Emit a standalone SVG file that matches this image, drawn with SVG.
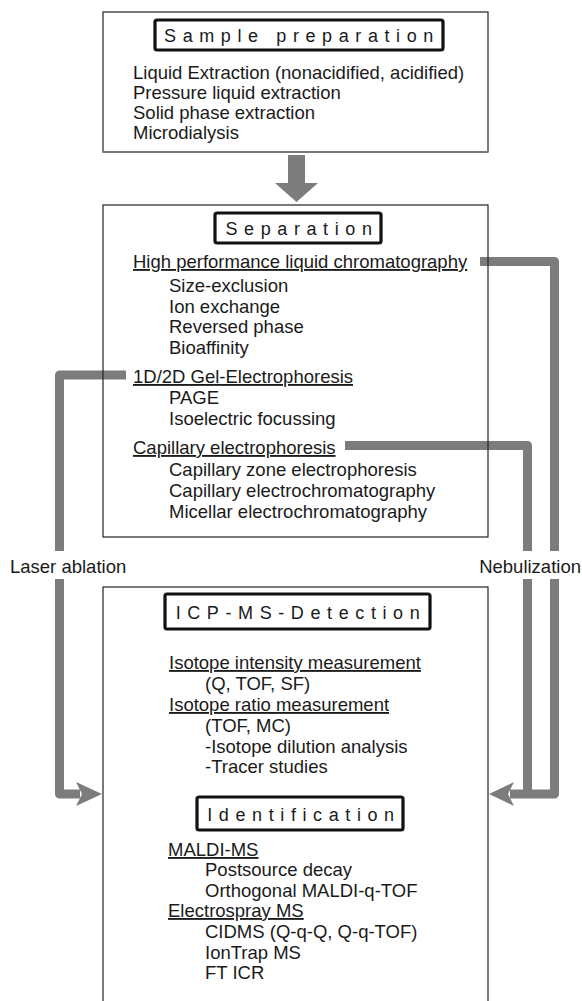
<svg xmlns="http://www.w3.org/2000/svg" width="582" height="1001" viewBox="0 0 582 1001">
<style>
  text { font-family: "Liberation Sans", Arial, sans-serif; font-size: 18.5px; fill: #1a1a1a; }
  .title { font-size: 18px; letter-spacing: 6.6px; text-anchor: middle; }
  .u { text-decoration: underline; }
  .box { fill: none; stroke: #222; stroke-width: 1.2; }
  .tbox { fill: #fff; stroke: #111; stroke-width: 3.2; }
  .conn { fill: none; stroke: #7c7c7c; stroke-width: 9; stroke-linejoin: round; }
  .head { fill: #7c7c7c; }
</style>
<rect width="582" height="1001" fill="#fff"/>

<g id="connectors">
  <polygon class="head" points="288,155 305,155 305,183 318,183 296.5,202 275,183 288,183"/>
  <path class="conn" d="M480,261.5 H554.5 V551"/>
  <path class="conn" d="M554.5,579 V794 H510"/>
  <path class="conn" d="M345,445.5 H527.5 V551"/>
  <path class="conn" d="M527.5,579 V794"/>
  <path class="conn" d="M126,375 H59.5 V551"/>
  <path class="conn" d="M59.5,579 V794 H80"/>
  <polygon class="head" points="76,782 102,794 76,806 82,794"/>
  <polygon class="head" points="514,782 489,794 514,806 508,794"/>
  <text x="10" y="573">Laser ablation</text>
  <text x="581" y="573" text-anchor="end">Nebulization</text>
</g>

<g id="sample-preparation">
  <rect class="box" x="103" y="12" width="385" height="140"/>
  <line x1="103" y1="152" x2="488" y2="152" stroke="#777" stroke-width="2"/>
  <rect class="tbox" x="155" y="20" width="288" height="30" rx="2"/>
  <text class="title" x="302" y="42">Sample preparation</text>
  <text x="133" y="79">Liquid Extraction (nonacidified, acidified)</text>
  <text x="133" y="99">Pressure liquid extraction</text>
  <text x="133" y="119">Solid phase extraction</text>
  <text x="133" y="139">Microdialysis</text>
</g>

<g id="separation">
  <rect class="box" x="103" y="205" width="385" height="332"/>
  <rect class="tbox" x="215" y="213" width="166" height="30" rx="2"/>
  <text class="title" x="302" y="235">Separation</text>
  <text class="u" x="133" y="268">High performance liquid chromatography</text>
  <text x="169" y="292">Size-exclusion</text>
  <text x="169" y="313">Ion exchange</text>
  <text x="169" y="333">Reversed phase</text>
  <text x="169" y="354">Bioaffinity</text>
  <text class="u" x="133" y="383">1D/2D Gel-Electrophoresis</text>
  <text x="169" y="404">PAGE</text>
  <text x="169" y="425">Isoelectric focussing</text>
  <text class="u" x="133" y="454">Capillary electrophoresis</text>
  <text x="169" y="476">Capillary zone electrophoresis</text>
  <text x="169" y="497">Capillary electrochromatography</text>
  <text x="169" y="518">Micellar electrochromatography</text>
</g>

<g id="icp-ms-detection">
  <rect class="box" x="103" y="587" width="385" height="430"/>
  <rect class="tbox" x="165" y="594" width="265" height="35" rx="2"/>
  <text class="title" x="301" y="619">ICP-MS-Detection</text>
  <text class="u" x="169" y="669">Isotope intensity measurement</text>
  <text x="205" y="690">(Q, TOF, SF)</text>
  <text class="u" x="169" y="711">Isotope ratio measurement</text>
  <text x="205" y="732">(TOF, MC)</text>
  <text x="205" y="753">-Isotope dilution analysis</text>
  <text x="205" y="773">-Tracer studies</text>
</g>

<g id="identification">
  <rect class="tbox" x="197" y="797" width="206" height="33" rx="2"/>
  <text class="title" x="304" y="821">Identification</text>
  <text class="u" x="168" y="856">MALDI-MS</text>
  <text x="205" y="876">Postsource decay</text>
  <text x="205" y="897">Orthogonal MALDI-q-TOF</text>
  <text class="u" x="168" y="917">Electrospray MS</text>
  <text x="205" y="938">CIDMS (Q-q-Q, Q-q-TOF)</text>
  <text x="205" y="959">IonTrap MS</text>
  <text x="205" y="979">FT ICR</text>
</g>
</svg>
